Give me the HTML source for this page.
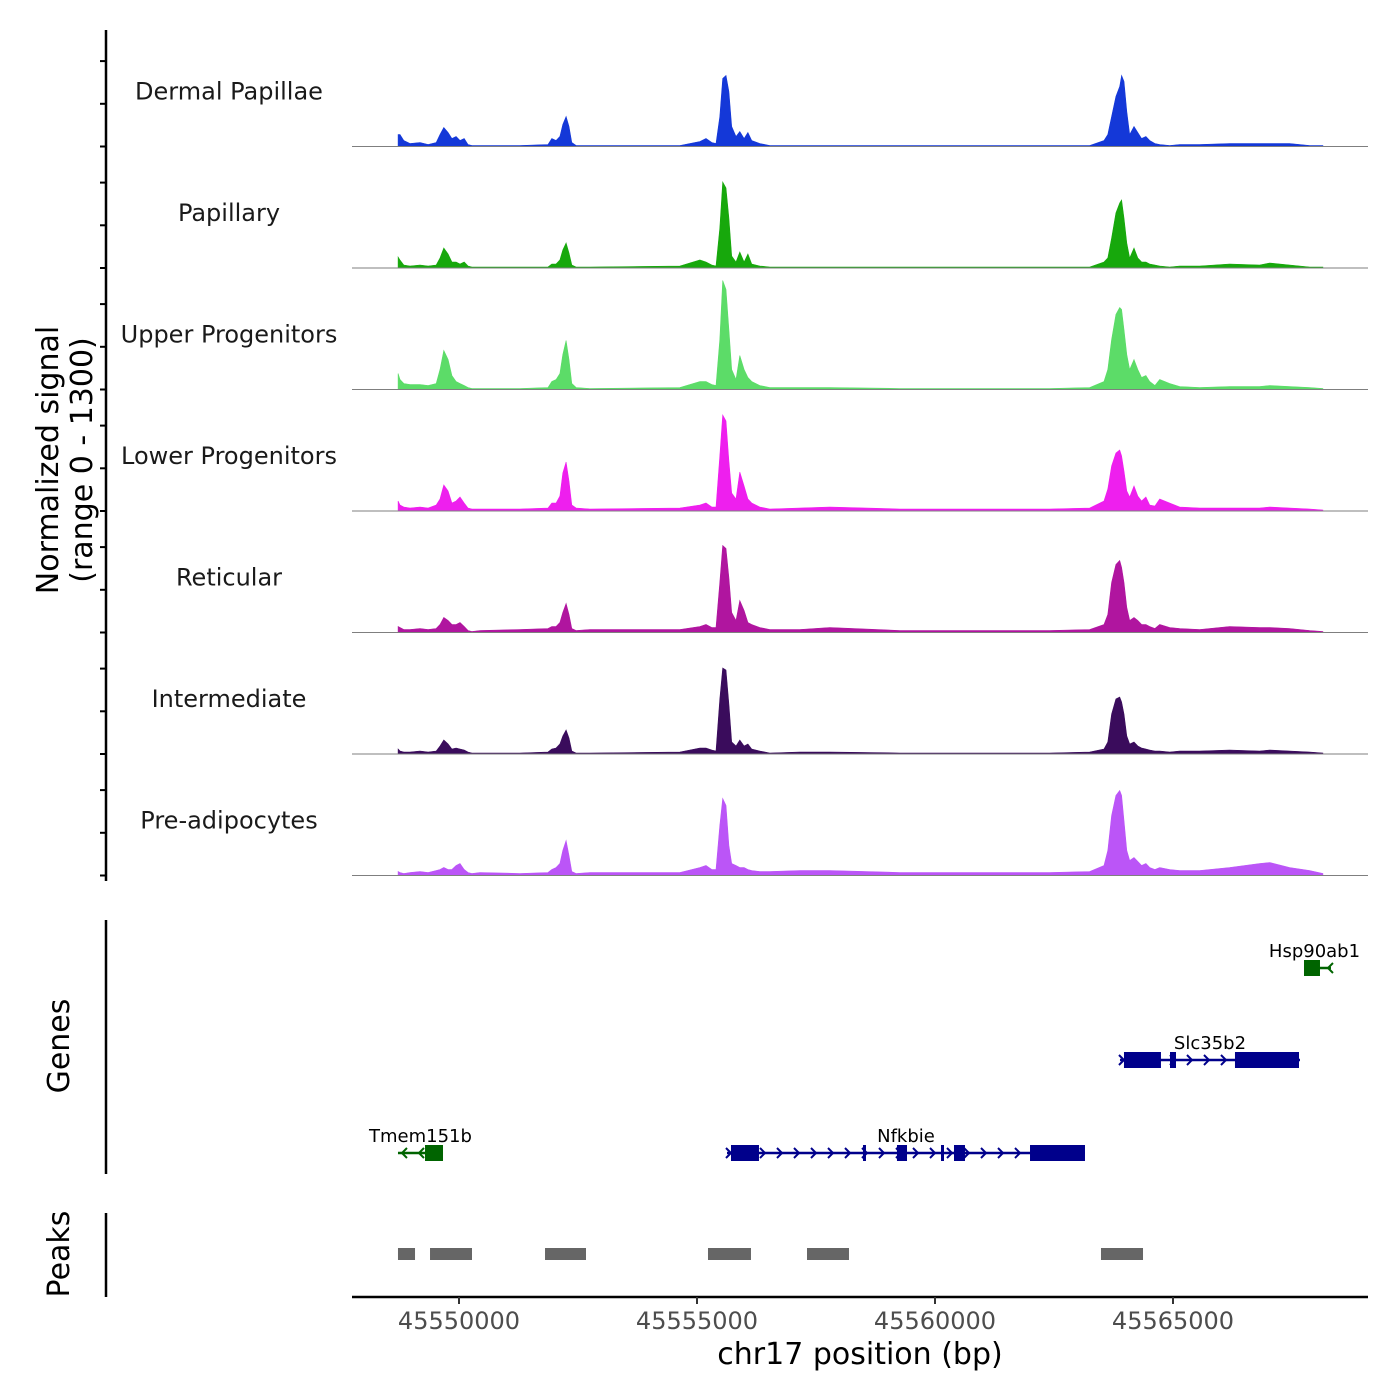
<!DOCTYPE html>
<html><head><meta charset="utf-8"><style>
html,body{margin:0;padding:0;background:#fff;}
svg{display:block;font-family:"DejaVu Sans","Liberation Sans",sans-serif;}
</style></head><body>
<svg id="chart" width="1400" height="1400" viewBox="0 0 1400 1400" xmlns="http://www.w3.org/2000/svg"></svg>
<script>
// ---- data ----
const positionsKb = [45548.72,45548.76,45548.84,45548.97,45549.18,45549.35,45549.52,45549.60,45549.68,45549.77,45549.85,45549.94,45550.02,45550.11,45550.19,45550.27,45550.44,45551.28,45551.87,45551.95,45552.04,45552.12,45552.18,45552.25,45552.31,45552.37,45552.46,45552.75,45554.64,45555.06,45555.19,45555.31,45555.40,45555.48,45555.54,45555.61,45555.67,45555.73,45555.82,45555.90,45555.99,45556.07,45556.15,45556.32,45556.53,45557.16,45557.79,45559.26,45562.41,45563.25,45563.55,45563.63,45563.71,45563.80,45563.88,45563.92,45563.97,45564.03,45564.09,45564.18,45564.26,45564.34,45564.43,45564.51,45564.62,45564.72,45564.93,45565.14,45565.56,45566.19,45566.82,45567.03,45567.45,45567.87,45568.15];
const trackNames = ["Dermal Papillae","Papillary","Upper Progenitors","Lower Progenitors","Reticular","Intermediate","Pre-adipocytes"];
const trackColors = ["#1438d8","#17a80c","#5cdc68","#ee1fee","#b0159f","#3a0c5c","#bb55f7"];
const dermalPapillae = [12,12,6,3,4,2,4,12,19,14,8,10,6,8,2,1,1,1,2,8,6,10,22,30,20,4,1,1,1,5,8,4,3,30,68,71,55,20,10,15,8,14,6,3,1,1,1,1,1,1,6,12,30,50,60,71,65,35,12,20,14,8,10,6,3,2,1,2,2,3,3,3,3,1,1];
const papillary = [11,8,3,2,3,2,3,10,20,14,6,6,4,6,2,1,1,1,1,4,4,8,18,25,15,3,1,1,2,8,6,3,2,40,86,80,50,12,6,16,6,14,4,2,1,1,1,1,1,1,6,10,30,55,65,68,50,25,10,20,10,6,6,4,3,2,1,2,2,4,3,5,3,1,1];
const upperProgenitors = [16,10,6,5,5,4,6,20,39,30,14,8,6,4,2,1,1,1,2,8,10,16,35,49,30,6,2,1,2,8,8,5,4,50,109,100,60,20,10,34,20,12,8,4,2,2,2,1,1,2,8,20,50,75,82,80,60,35,20,30,20,12,14,8,4,10,6,3,2,3,3,4,3,2,1];
const lowerProgenitors = [10,6,4,3,4,3,6,12,26,20,8,10,14,8,3,2,2,2,3,8,8,15,38,49,30,6,3,2,3,6,8,4,4,55,96,90,50,18,12,39,25,12,8,4,2,3,4,2,2,3,10,22,45,58,61,55,40,20,14,25,15,10,14,6,5,12,8,4,3,3,3,4,3,2,1];
const reticular = [6,5,3,3,4,3,4,8,15,12,8,8,10,6,2,1,2,3,4,6,6,10,20,29,18,4,2,3,3,6,8,5,5,50,87,84,55,20,12,32,22,10,8,5,3,3,5,2,2,3,8,18,50,68,72,65,50,25,12,15,12,8,8,6,4,8,5,4,3,6,5,5,4,2,1];
const intermediate = [5,3,2,2,3,2,3,8,14,10,5,6,5,4,2,1,1,1,2,5,6,10,18,24,16,3,1,1,2,6,6,4,3,55,86,84,50,12,8,14,8,10,5,3,1,2,2,1,1,2,5,12,40,55,57,52,40,18,10,12,8,6,5,4,3,3,2,3,3,4,3,4,3,2,1];
const preAdipocytes = [4,3,2,3,4,3,5,6,8,6,6,10,12,6,3,2,3,2,3,6,8,12,25,35,20,4,2,3,3,8,10,6,6,50,77,70,30,12,10,8,8,6,5,4,4,5,5,3,3,4,10,25,60,80,85,80,55,25,15,18,14,10,12,8,6,8,6,5,5,8,12,13,8,5,2];
const trackValues = [dermalPapillae,papillary,upperProgenitors,lowerProgenitors,reticular,intermediate,preAdipocytes];
const xTicks = [45550000,45555000,45560000,45565000];
const xTickLabels = ["45550000","45555000","45560000","45565000"];
const peakStarts = [45548718,45549391,45551807,45555231,45557311,45563487];
const peakEnds = [45549076,45550273,45552668,45556134,45558193,45564370];
const geneNames = ["Hsp90ab1","Slc35b2","Tmem151b","Nfkbie"];
const geneStarts = [45567752,45563886,45548718,45555630];
const geneEnds = [45568193,45567668,45549664,45563151];
const geneStrand = [-1,1,-1,1];
const geneRow = [0,1,2,2];
const geneColors = ["#006400","#00008b","#006400","#00008b"];
const exonGene = [0,1,1,1,2,3,3,3,3,3,3];
const exonStarts = [45567752,45563970,45564937,45566302,45549286,45555714,45558487,45559201,45560126,45560399,45561996];
const exonEnds = [45568088,45564747,45565063,45567647,45549664,45556302,45558550,45559412,45560189,45560630,45563151];
const signalMax = 121.5;

// ---- scales ----
const X0 = 352, X1 = 1368;
const x = bp => 459 + (bp - 45550000) * (238 / 5000);
const trackTop = 25, trackH = 121.5;
const NS = "http://www.w3.org/2000/svg";
const svg = document.getElementById('chart');
function mk(tag, attrs, parent){ const e=document.createElementNS(NS,tag); for(const k in attrs) e.setAttribute(k,attrs[k]); (parent||svg).appendChild(e); return e; }

trackNames.forEach((name,i)=>{
  const base = trackTop + trackH*(i+1);
  const g = mk('g',{});
  
  
  const vals = trackValues[i];
  let d = 'M' + x(positionsKb[0]*1000).toFixed(1) + ',' + base;
  positionsKb.forEach((p,j)=>{ d += ' L' + x(p*1000).toFixed(1) + ',' + (base - vals[j]/signalMax*trackH).toFixed(1); });
  d += ' L' + x(positionsKb[positionsKb.length-1]*1000).toFixed(1) + ',' + base + ' Z';
  const a = mk('path',{d:d, fill:trackColors[i], stroke:trackColors[i], 'stroke-width':0.6}, g);
  
  
  const bl = mk('line',{x1:X0,x2:X1,y1:base,y2:base,stroke:'#7f7f7f','stroke-width':1}, g);
  
  
  const t = mk('text',{x:229,y:base-47,'text-anchor':'middle','font-size':24,fill:'#1a1a1a'}, g);
  t.textContent = name;
  
  
  for(let k=0;k<3;k++){
    const tk = mk('line',{x1:100,x2:106,y1:base-k*42.7,y2:base-k*42.7,stroke:'#000','stroke-width':2});
    
    
  }
});
const ya = mk('line',{x1:106,x2:106,y1:30,y2:881,stroke:'#000','stroke-width':2.5});


const yt = mk('text',{transform:'translate(64,460) rotate(-90)','text-anchor':'middle','font-size':30,fill:'#000'});


const t1 = mk('tspan',{x:0,dy:-6},yt); t1.textContent='Normalized signal';
const t2 = mk('tspan',{x:0,dy:34},yt); t2.textContent='(range 0 - 1300)';

const ga = mk('line',{x1:106,x2:106,y1:920,y2:1174,stroke:'#000','stroke-width':2.5});


const gt = mk('text',{transform:'translate(69,1046) rotate(-90)','text-anchor':'middle','font-size':30});
gt.textContent='Genes';


const rowY = [968,1060,1153];
geneNames.forEach((n,i)=>{
  const y = rowY[geneRow[i]], c = geneColors[i];
  const g = mk('g',{});
  
  
  const xa = x(geneStarts[i]), xb = x(geneEnds[i]);
  const s = geneStrand[i]*5;
  const endArrowX = geneStrand[i] > 0 ? xb - 1 : xa + 1;
  const lineStart = geneStrand[i] > 0 ? xa : Math.min(xa, xb - 30);
  const lineEnd = geneStrand[i] > 0 ? xb : Math.max(xb, xb + 6);
  mk('line',{x1:xa,x2:(geneStrand[i] < 0 && xb - xa < 30) ? xb + 6 : xb,y1:y,y2:y,stroke:c,'stroke-width':2.5},g);
  let drawn = 0;
  for(let ax = xa+4; ax < xb-2; ax += 17){
    mk('path',{d:`M${ax-s},${y-5} L${ax},${y} L${ax-s},${y+5}`,fill:'none',stroke:c,'stroke-width':2},g);
    drawn++;
  }
  if (xb - xa < 30) {
    const ax = geneStrand[i] < 0 ? xb + 3 : xb - 3;
    mk('path',{d:`M${ax-s},${y-5} L${ax},${y} L${ax-s},${y+5}`,fill:'none',stroke:c,'stroke-width':2},g);
  }
  exonGene.forEach((gi,k)=>{ if(gi===i) mk('rect',{x:x(exonStarts[k]),y:y-8,width:x(exonEnds[k])-x(exonStarts[k]),height:16,fill:c},g); });
  const lt = mk('text',{x:(xa+xb)/2,y:y-11,'text-anchor':'middle','font-size':18,fill:'#000'},g);
  lt.textContent = n;
});

const pa = mk('line',{x1:106,x2:106,y1:1213,y2:1297,stroke:'#000','stroke-width':2.5});


const pt = mk('text',{transform:'translate(69,1254) rotate(-90)','text-anchor':'middle','font-size':30});
pt.textContent='Peaks';


peakStarts.forEach((s,i)=>{
  const r = mk('rect',{x:x(s),y:1248,width:x(peakEnds[i])-x(s),height:12,fill:'#666'});
  
  
});

const xa = mk('line',{x1:X0,x2:X1,y1:1297,y2:1297,stroke:'#000','stroke-width':2.5});


xTicks.forEach((v,i)=>{
  const tk = mk('line',{x1:x(v),x2:x(v),y1:1297,y2:1304,stroke:'#333','stroke-width':2});
  
  
  const tl = mk('text',{x:x(v),y:1329,'text-anchor':'middle','font-size':24,fill:'#4d4d4d'});
  tl.textContent = xTickLabels[i];
  
  
});
const xt = mk('text',{x:860,y:1364,'text-anchor':'middle','font-size':30,fill:'#000'});
xt.textContent='chr17 position (bp)';


</script>
</body></html>
